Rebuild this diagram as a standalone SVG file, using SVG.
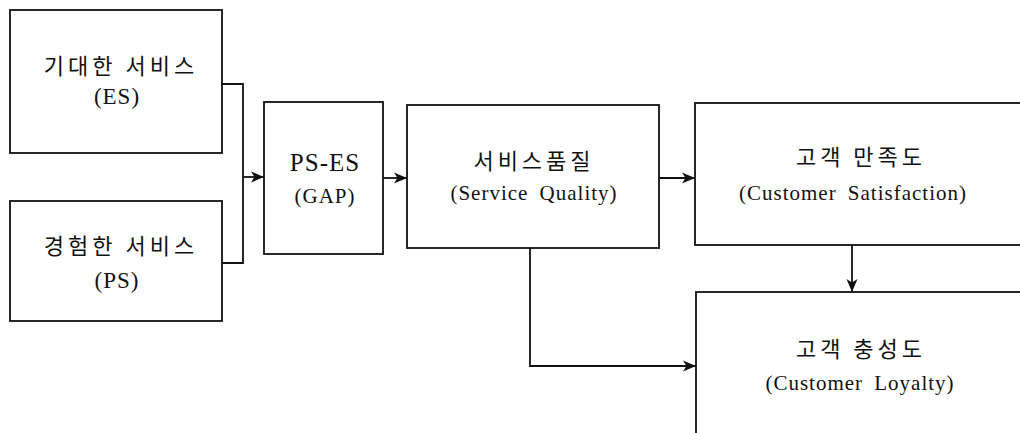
<svg xmlns="http://www.w3.org/2000/svg" width="1020" height="433" viewBox="0 0 1020 433">
  <style>
    .box { fill: #ffffff; stroke: #111111; stroke-width: 1.8; }
    .ko { font-family: "Noto Sans CJK KR", "Liberation Serif", serif; font-size: 22px; fill: #111111; text-anchor: middle; letter-spacing: 4px; }
    .en { font-family: "Liberation Serif", "Noto Sans CJK KR", serif; font-size: 21px; fill: #111111; text-anchor: middle; letter-spacing: 1px; word-spacing: 5px; }
    .big { font-size: 23px; letter-spacing: 1px; }
    .wire { fill: none; stroke: #111111; stroke-width: 1.8; }
  </style>
  <defs>
    <marker id="arrow" markerUnits="userSpaceOnUse" markerWidth="14" markerHeight="12" refX="13" refY="6" orient="auto">
      <path d="M0,0.5 L13,6 L0,11.5 L3.5,6 Z" fill="#111111"/>
    </marker>
  </defs>

  <rect width="1020" height="433" fill="#ffffff"/>

  <g id="expected-service">
    <rect class="box" x="10" y="10" width="212" height="143"/>
    <text class="ko" x="121" y="74">기대한 서비스</text>
    <text class="en big" x="117" y="104">(ES)</text>
  </g>

  <g id="perceived-service">
    <rect class="box" x="10" y="201" width="212" height="120"/>
    <text class="ko" x="121" y="254">경험한 서비스</text>
    <text class="en big" x="117" y="288">(PS)</text>
  </g>

  <g id="gap">
    <rect class="box" x="264" y="102" width="119" height="152"/>
    <text class="en big" x="325" y="171" style="font-size:25px">PS-ES</text>
    <text class="en" x="325" y="203">(GAP)</text>
  </g>

  <g id="service-quality">
    <rect class="box" x="407" y="105" width="252" height="143"/>
    <text class="ko" x="534" y="169">서비스품질</text>
    <text class="en" x="534" y="200">(Service Quality)</text>
  </g>

  <g id="customer-satisfaction">
    <rect class="box" x="695" y="103" width="340" height="142"/>
    <text class="ko" x="861" y="165">고객 만족도</text>
    <text class="en" x="853" y="200">(Customer Satisfaction)</text>
  </g>

  <g id="customer-loyalty">
    <rect class="box" x="696" y="292" width="340" height="160"/>
    <text class="ko" x="861" y="357">고객 충성도</text>
    <text class="en" x="860" y="390">(Customer Loyalty)</text>
  </g>

  <g id="connectors">
    <polyline class="wire" points="222,84 243,84 243,263 222,263"/>
    <line class="wire" x1="243" y1="177" x2="264" y2="177" marker-end="url(#arrow)"/>
    <line class="wire" x1="383" y1="178" x2="407" y2="178" marker-end="url(#arrow)"/>
    <line class="wire" x1="659" y1="178" x2="695" y2="178" marker-end="url(#arrow)"/>
    <line class="wire" x1="852" y1="245" x2="852" y2="292" marker-end="url(#arrow)"/>
    <polyline class="wire" points="530,248 530,366 696,366" marker-end="url(#arrow)"/>
  </g>
</svg>
